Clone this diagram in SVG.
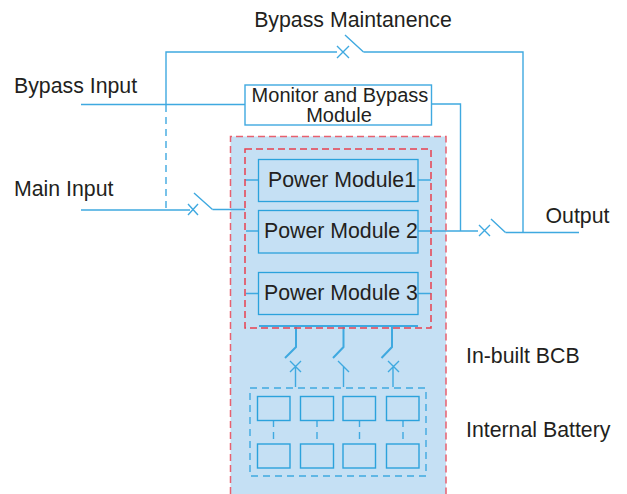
<svg xmlns="http://www.w3.org/2000/svg" width="627" height="494" viewBox="0 0 627 494">
<style>
text{font-family:"Liberation Sans",Arial,sans-serif;font-size:21.3px;fill:#231f20}
.m{text-anchor:middle}
.s{font-size:20px}
.l{fill:none;stroke:#3fa9e0;stroke-width:1.4}
.t{fill:none;stroke:#3fa9e0;stroke-width:2}
.b{fill:#c5e0f4;stroke:#2ba2dc;stroke-width:1.3}
.bb{fill:none;stroke:#2ba2dc;stroke-width:1.4}
.d{fill:none;stroke:#3fa9e0;stroke-width:1.4;stroke-dasharray:7 5}
.r{fill:none;stroke:#e8606f;stroke-width:1.5;stroke-dasharray:7 4}
.r2{fill:none;stroke:#e8404f;stroke-width:1.5;stroke-dasharray:7 4}
</style>
<rect x="230.500" y="136.500" width="215.500" height="358" fill="#c5e0f4"/>
<g id="connectors">
<path class="l" d="M166 105V52H337M363.500 52H523V232.500M81 104.500H245M431 104H460.500V231"/>
<path class="d" d="M166 105V210"/>
<path class="l" d="M81 210H190M212.500 209.500H245M245 180H258M418 180H431M246 231H258M418 231H478M505.500 232.500H579M246 293.500H258M418 293.500H431"/>
<path class="l" d="M345 35L363.500 52M194 193L212.500 209.500M491 219L505.500 232.500"/>
<path class="l" d="M337 46L349 58M337 58L349 46M188 204L198 215M188 215L198 204M479 225L490 236M479 236L490 225"/>
<path class="t" d="M259 326H418M296 326V347L285 358M343.500 326V347L333 358M392 326V347L381.500 358"/>
<path class="l" d="M295.500 387V367M290 361L301 372M301 361L290 372M343.500 387V366M338 361L349 372M393 387V367M388 361L399 372M399 361L388 372"/>
<path class="d" d="M273.500 420V444M317 420V444M359.500 420V444M403 420V444"/>
</g>
<path class="r" d="M230.500 494V136.500H446V494"/>
<rect class="r2" x="245" y="149" width="186" height="179"/>
<g id="bypass-maintenance"><text class="m" x="353" y="27">Bypass Maintanence</text></g>
<g id="bypass-input"><text x="14" y="93">Bypass Input</text></g>
<g id="main-input"><text x="14" y="196">Main Input</text></g>
<g id="output"><text x="545.500" y="223">Output</text></g>
<g id="monitor"><rect x="245" y="85" width="186.500" height="40" fill="#fff" stroke="#3fa9e0" stroke-width="1.4"/><text class="m s" x="340" y="102">Monitor and Bypass</text><text class="m s" x="339" y="122">Module</text></g>
<g id="pm1"><rect class="b" x="258.500" y="159.500" width="159.500" height="42"/><text x="268" y="187">Power Module1</text></g>
<g id="pm2"><rect class="b" x="258.500" y="210.500" width="159.500" height="42.500"/><text x="264" y="238">Power Module 2</text></g>
<g id="pm3"><rect class="b" x="258.500" y="272.500" width="159.500" height="42"/><text x="264" y="299.500">Power Module 3</text></g>
<g id="bcb"><text x="466" y="363">In-built BCB</text></g>
<g id="battery-label"><text x="466" y="437">Internal Battery</text></g>
<g id="battery">
<rect class="d" x="250" y="388" width="176" height="88"/>
<rect class="bb" x="257.500" y="396.500" width="32.500" height="24"/><rect class="bb" x="300.500" y="396.500" width="33" height="24"/><rect class="bb" x="343" y="396.500" width="32.500" height="24"/><rect class="bb" x="386.500" y="396.500" width="32.500" height="24"/>
<rect class="bb" x="257.500" y="444" width="32.500" height="24"/><rect class="bb" x="300.500" y="444" width="33" height="24"/><rect class="bb" x="343" y="444" width="32.500" height="24"/><rect class="bb" x="386.500" y="444" width="32.500" height="24"/>
</g>
</svg>
